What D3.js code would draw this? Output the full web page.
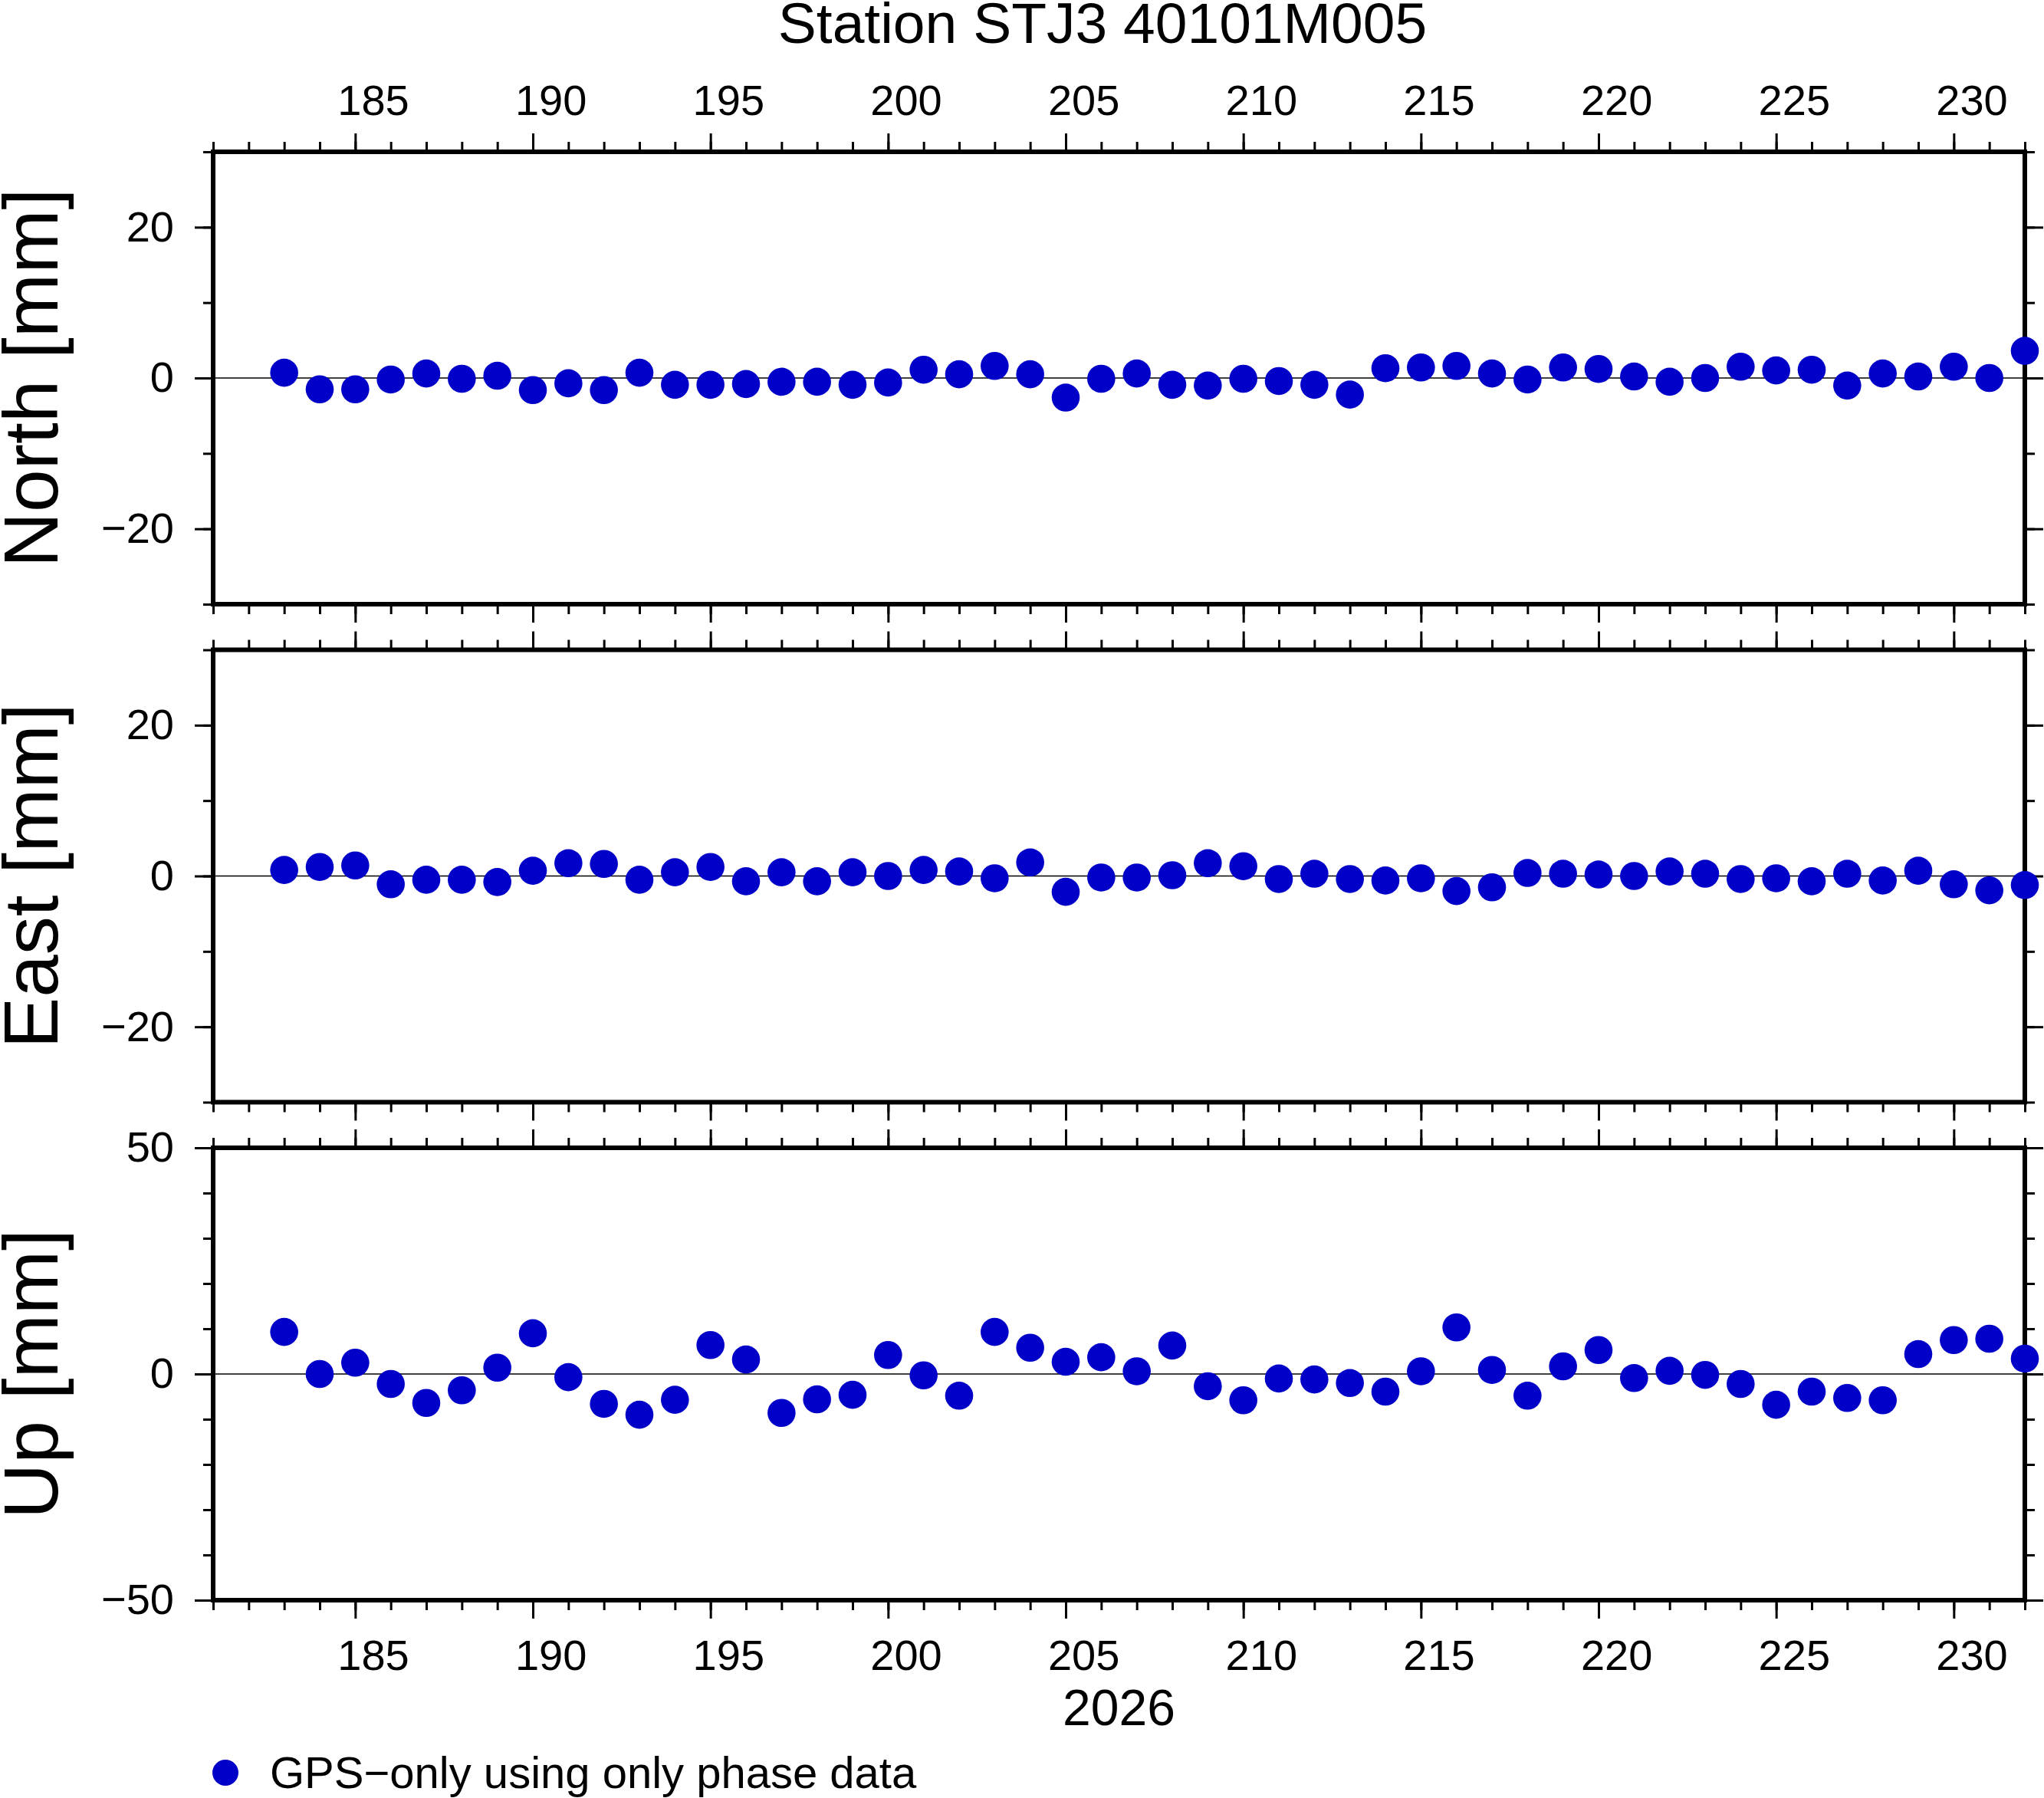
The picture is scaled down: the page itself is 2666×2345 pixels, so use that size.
<!DOCTYPE html>
<html>
<head>
<meta charset="utf-8">
<script src="https://cdn.jsdelivr.net/npm/d3@7"></script>
<style>
  html, body { margin: 0; padding: 0; background: #fff; }
  svg { display: block; font-family: "Liberation Sans", Arial, sans-serif; }
</style>
</head>
<body>
<div id="chart"></div>
<script>
// day of year 2026
const days = [183, 184, 185, 186, 187, 188, 189, 190, 191, 192, 193, 194, 195, 196, 197, 198, 199,
  200, 201, 202, 203, 204, 205, 206, 207, 208, 209, 210, 211, 212, 213, 214, 215, 216, 217,
  218, 219, 220, 221, 222, 223, 224, 225, 226, 227, 228, 229, 230, 231, 232];

// residuals in mm
const north = [0.7, -1.5, -1.5, -0.2, 0.6, -0.1, 0.3, -1.6, -0.7, -1.6, 0.7, -0.9, -0.9, -0.8, -0.5, -0.5, -0.9,
  -0.6, 1.1, 0.5, 1.6, 0.5, -2.6, -0.1, 0.6, -0.9, -1.0, -0.1, -0.4, -0.9, -2.2, 1.3, 1.4, 1.6, 0.6,
  -0.2, 1.4, 1.2, 0.2, -0.5, 0.0, 1.5, 1.0, 1.1, -1.0, 0.6, 0.2, 1.5, 0.0, 3.6];
const east = [0.8, 1.2, 1.4, -1.1, -0.5, -0.5, -0.8, 0.7, 1.7, 1.6, -0.5, 0.5, 1.2, -0.7, 0.5, -0.7, 0.5,
  0.0, 0.8, 0.6, -0.3, 1.8, -2.1, -0.2, -0.2, 0.1, 1.7, 1.3, -0.4, 0.3, -0.4, -0.6, -0.3, -2.0, -1.5,
  0.4, 0.3, 0.2, 0.0, 0.6, 0.3, -0.4, -0.3, -0.7, 0.3, -0.6, 0.7, -1.1, -1.9, -1.2];
const up = [9.3, 0.0, 2.5, -2.2, -6.4, -3.6, 1.4, 9.0, -0.7, -6.6, -9.0, -5.7, 6.4, 3.2, -8.6, -5.6, -4.6,
  4.2, -0.3, -4.8, 9.3, 5.8, 2.7, 3.7, 0.6, 6.3, -2.7, -5.8, -1.0, -1.2, -2.0, -3.9, 0.6, 10.3, 0.9,
  -4.8, 1.7, 5.3, -0.9, 0.7, -0.2, -2.2, -6.8, -3.9, -5.3, -5.8, 4.4, 7.5, 7.8, 3.4];

// axis setup
const xDomain = [181, 232];
const xMajor = [185, 190, 195, 200, 205, 210, 215, 220, 225, 230];
const panels = [
  { label: 'North [mm]', values: north, domain: [-30, 30], major: [-20, 0, 20], minorStep: 10 },
  { label: 'East [mm]', values: east, domain: [-30, 30], major: [-20, 0, 20], minorStep: 10 },
  { label: 'Up [mm]', values: up, domain: [-50, 50], major: [-50, 0, 50], minorStep: 10 }
];
const title = 'Station STJ3 40101M005';
const yearLabel = '2026';
const legendLabel = 'GPS\u2212only using only phase data';

const W = 2666, H = 2345;
const left = 278, right = 2641;
const panelTops = [198, 847.5, 1497];
const panelH = 590;
const dotColor = '#0000c8';
const fontSize = 56;
const minorLen = 13, majorLen = 24;

const svg = d3.select('#chart').append('svg')
  .attr('width', W)
  .attr('height', H);

svg.append('rect').attr('width', W).attr('height', H).attr('fill', '#fff');

const x = d3.scaleLinear().domain(xDomain).range([left, right]);
const halfDay = x(1) - x(0.5);
const minus = d => d3.format('d')(d).replace('-', '\u2212');

function styleAxis(g) {
  g.select('.domain').remove();
  g.selectAll('.tick line').attr('stroke', '#000').attr('stroke-width', 3);
  g.selectAll('.tick text')
    .attr('fill', '#000')
    .style('font-size', fontSize + 'px')
    .style('font-family', '"Liberation Sans", Arial, sans-serif');
}

panels.forEach((p, i) => {
  const top = panelTops[i];
  const bottom = top + panelH;
  const y = d3.scaleLinear().domain(p.domain).range([bottom, top]);
  const yMinor = d3.range(p.domain[0], p.domain[1] + 0.001, p.minorStep);
  const xMinor = d3.range(xDomain[0], xDomain[1] + 0.001, 1);
  const g = svg.append('g');

  // zero line
  g.append('line')
    .attr('x1', left).attr('x2', right)
    .attr('y1', y(0)).attr('y2', y(0))
    .attr('stroke', '#000').attr('stroke-width', 1.3);

  // y ticks left
  g.append('g').attr('transform', `translate(${left},0)`)
    .call(d3.axisLeft(y).tickValues(yMinor).tickSize(minorLen).tickFormat(''))
    .call(styleAxis);
  g.append('g').attr('transform', `translate(${left},0)`)
    .call(d3.axisLeft(y).tickValues(p.major).tickSize(majorLen).tickPadding(27).tickFormat(minus))
    .call(styleAxis);

  // y ticks right
  g.append('g').attr('transform', `translate(${right},0)`)
    .call(d3.axisRight(y).tickValues(yMinor).tickSize(minorLen).tickFormat(''))
    .call(styleAxis);
  g.append('g').attr('transform', `translate(${right},0)`)
    .call(d3.axisRight(y).tickValues(p.major).tickSize(majorLen).tickFormat(''))
    .call(styleAxis);

  // x ticks top and bottom
  g.append('g').attr('transform', `translate(0,${top})`)
    .call(d3.axisTop(x).tickValues(xMinor).tickSize(minorLen).tickFormat(''))
    .call(styleAxis);
  g.append('g').attr('transform', `translate(0,${top})`)
    .call(d3.axisTop(x).tickValues(xMajor).tickSize(majorLen).tickPadding(24)
      .tickFormat(i === 0 ? d3.format('d') : ''))
    .call(styleAxis)
    .selectAll('.tick text').attr('dx', halfDay);
  g.append('g').attr('transform', `translate(0,${bottom})`)
    .call(d3.axisBottom(x).tickValues(xMinor).tickSize(minorLen).tickFormat(''))
    .call(styleAxis);
  g.append('g').attr('transform', `translate(0,${bottom})`)
    .call(d3.axisBottom(x).tickValues(xMajor).tickSize(majorLen).tickPadding(27)
      .tickFormat(i === panels.length - 1 ? d3.format('d') : ''))
    .call(styleAxis)
    .selectAll('.tick text').attr('dx', halfDay);

  // frame
  g.append('rect')
    .attr('x', left).attr('y', top)
    .attr('width', right - left).attr('height', panelH)
    .attr('fill', 'none').attr('stroke', '#000').attr('stroke-width', 6);

  // points
  g.append('g').selectAll('circle')
    .data(days.map((d, k) => ({ day: d, v: p.values[k] })))
    .enter()
    .append('circle')
    .attr('cx', d => x(d.day))
    .attr('cy', d => y(d.v))
    .attr('r', 18.3)
    .attr('fill', dotColor);

  // panel label
  svg.append('text')
    .attr('transform', `translate(75,${(top + bottom) / 2}) rotate(-90)`)
    .attr('text-anchor', 'middle')
    .style('font-size', '100px')
    .text(p.label);
});

// title
svg.append('text')
  .attr('x', 1438).attr('y', 56)
  .attr('text-anchor', 'middle')
  .style('font-size', '75px')
  .text(title);

// year label
svg.append('text')
  .attr('x', (left + right) / 2).attr('y', 2250)
  .attr('text-anchor', 'middle')
  .style('font-size', '66px')
  .text(yearLabel);

// legend
svg.append('circle')
  .attr('cx', 294).attr('cy', 2312).attr('r', 17)
  .attr('fill', dotColor);
svg.append('text')
  .attr('x', 352).attr('y', 2332)
  .style('font-size', '58px')
  .text(legendLabel);
</script>
</body>
</html>
